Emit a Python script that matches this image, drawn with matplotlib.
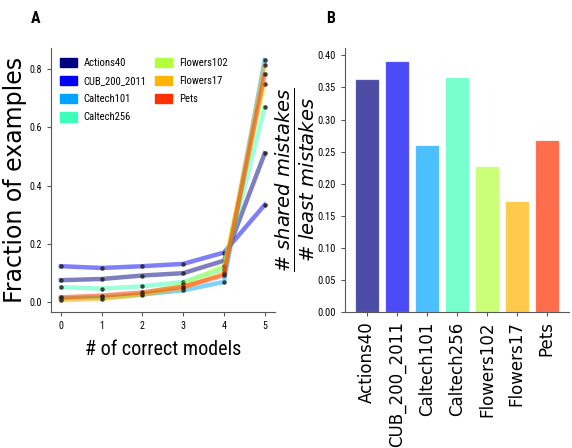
import numpy as np
import matplotlib
matplotlib.use("Agg")
import matplotlib.pyplot as plt
from matplotlib.patches import Patch

# ---------------------------------------------------------
# data
# ---------------------------------------------------------
datasets = ["Actions40", "CUB_200_2011", "Caltech101", "Caltech256",
            "Flowers102", "Flowers17", "Pets"]
n_correct = [0, 1, 2, 3, 4, 5]

frac_actions40 = [0.075, 0.079, 0.091, 0.099, 0.142, 0.511]
frac_cub = [0.123, 0.117, 0.123, 0.131, 0.170, 0.334]
frac_caltech101 = [0.012, 0.015, 0.026, 0.040, 0.069, 0.832]
frac_caltech256 = [0.051, 0.046, 0.054, 0.069, 0.115, 0.669]
frac_flowers102 = [0.012, 0.016, 0.028, 0.062, 0.125, 0.749]
frac_flowers17 = [0.006, 0.010, 0.025, 0.048, 0.100, 0.815]
frac_pets = [0.016, 0.022, 0.033, 0.053, 0.092, 0.782]

shared_ratio = [0.364, 0.392, 0.260, 0.367, 0.228, 0.174, 0.269]

colors = ["#000080", "#0000f5", "#00a4ff", "#3dffba",
          "#b4ff3d", "#ffb400", "#ff3000"]

plt.rcParams["font.family"] = ["Roboto Condensed", "DejaVu Sans"]

fig = plt.figure(figsize=(5.72, 4.48), dpi=100)

# ---------------------------------------------------------
# A: fraction of examples vs number of correct models
# ---------------------------------------------------------
ax1 = fig.add_axes([0.0886, 0.303, 0.392, 0.590])
series = [frac_actions40, frac_cub, frac_caltech101, frac_caltech256,
          frac_flowers102, frac_flowers17, frac_pets]
for vals, c in zip(series, colors):
    ax1.plot(n_correct, vals, color=c, lw=3.2, alpha=0.5)
    ax1.plot(n_correct, vals, ls="none", marker="o", ms=2.3,
             color="#222222", alpha=0.75)

ax1.set_xticks(n_correct)
ax1.set_yticks([0.0, 0.2, 0.4, 0.6, 0.8])
ax1.set_xlim(-0.25, 5.25)
ax1.set_xlabel("# of correct models", fontsize=14.5, labelpad=6)
ax1.set_ylabel("Fraction of examples", fontsize=17, family="DejaVu Sans")
ax1.yaxis.set_label_coords(-0.105, 0.5)
ax1.tick_params(labelsize=7.2, length=3, width=0.8, color="0.35")
for s in ["top", "right"]:
    ax1.spines[s].set_visible(False)
for s in ["left", "bottom"]:
    ax1.spines[s].set_color("0.35")

handles = [Patch(facecolor=c, edgecolor=c, label=d)
           for c, d in zip(colors, datasets)]
ax1.legend(handles=handles, ncol=2, frameon=False, fontsize=7.7,
           loc="upper left", bbox_to_anchor=(0.0, 1.0),
           handlelength=1.6, handleheight=1.0, handletextpad=0.6,
           columnspacing=0.8, labelspacing=0.72, borderaxespad=0.5)

fig.text(0.054, 0.958, "A", fontsize=11.5, fontweight="bold",
         ha="left", va="center")

# ---------------------------------------------------------
# B: shared mistakes ratio per dataset
# ---------------------------------------------------------
ax2 = fig.add_axes([0.603, 0.303, 0.392, 0.590])
xpos = np.arange(len(datasets))
ax2.bar(xpos, shared_ratio, width=0.8, color=colors, alpha=0.7,
        edgecolor="white", linewidth=0.8)
ax2.set_xticks(xpos)
ax2.set_xticklabels(datasets, rotation=90, fontsize=12,
                    family="DejaVu Sans")
ax2.set_yticks(np.arange(0, 0.41, 0.05))
ax2.set_xlim(-0.75, 6.75)
ax2.set_ylabel(r"$\frac{\#\ shared\ mistakes}{\#\ least\ mistakes}$",
               fontsize=20, family="DejaVu Sans")
ax2.yaxis.set_label_coords(-0.125, 0.5)
ax2.tick_params(axis="y", labelsize=7.5, length=3, width=0.8, color="0.35")
ax2.tick_params(axis="x", length=3, width=0.8, color="0.35")
for s in ["top", "right"]:
    ax2.spines[s].set_visible(False)
for s in ["left", "bottom"]:
    ax2.spines[s].set_color("0.35")

fig.text(0.570, 0.958, "B", fontsize=11.5, fontweight="bold",
         ha="left", va="center")

fig.savefig("out.png", dpi=100)
